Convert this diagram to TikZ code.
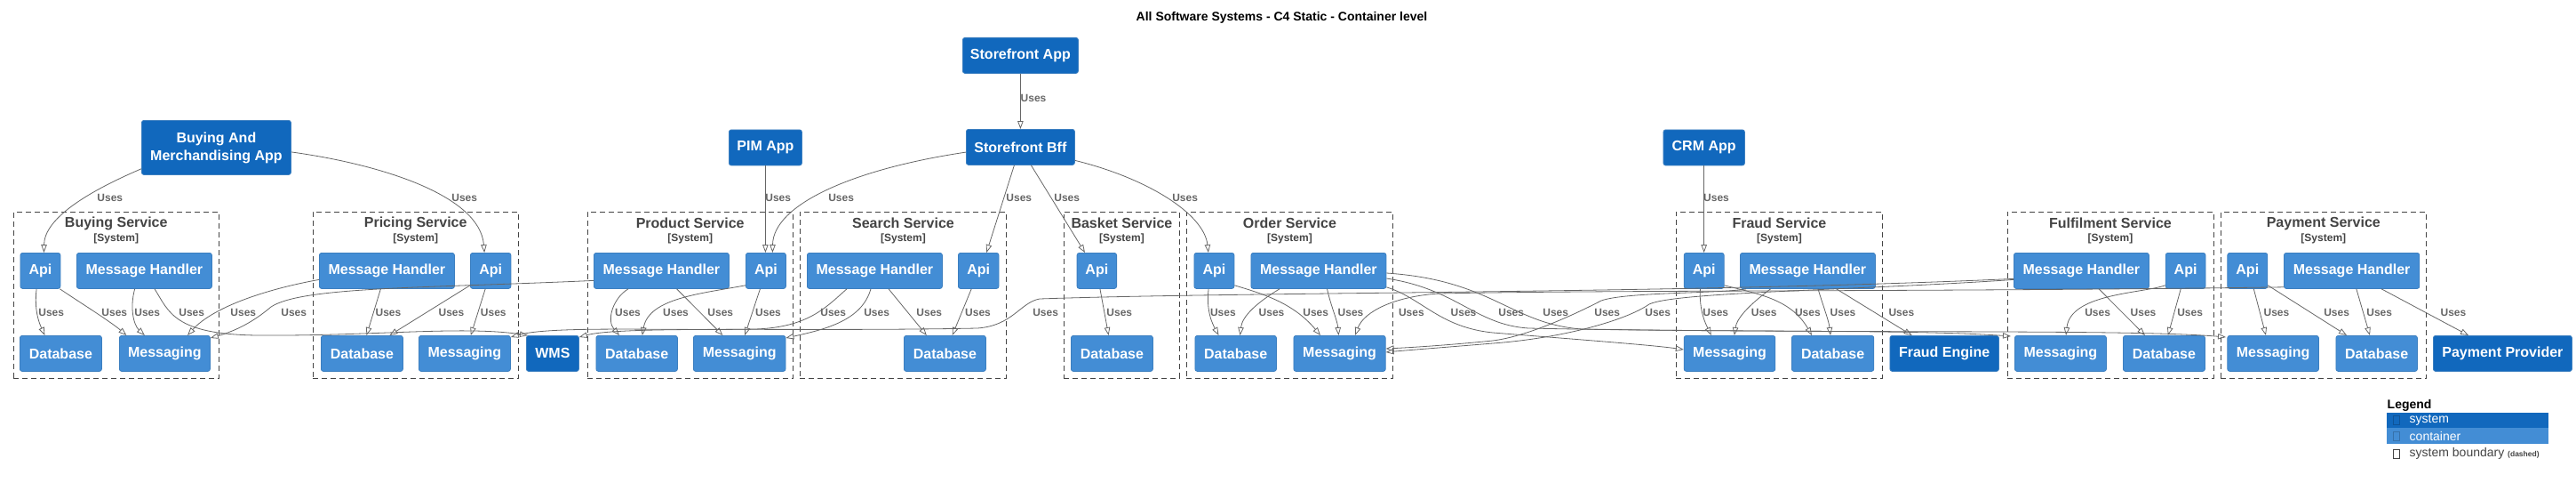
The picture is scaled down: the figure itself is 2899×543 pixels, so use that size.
\documentclass[tikz,border=0pt]{standalone}
\usepackage{fontspec}
\setmainfont{Liberation Sans}
\usetikzlibrary{arrows.meta}
\definecolor{sysblue}{HTML}{1168BD}
\definecolor{contblue}{HTML}{438DD5}
\definecolor{boxedge}{HTML}{3C7FC0}
\definecolor{relgray}{HTML}{666666}
\definecolor{bndgray}{HTML}{444444}
\tikzset{
  base/.style={rounded corners=2.5pt, draw=boxedge, line width=0.8pt, text=white,
    font=\fontsize{16}{20}\selectfont\bfseries, inner sep=0pt, minimum height=40pt,
    anchor=north west, align=center},
  sysbox/.style={base, fill=sysblue},
  contbox/.style={base, fill=contblue},
  bnd/.style={draw=bndgray, dash pattern=on 6pt off 4pt, line width=0.9pt,
    minimum height=187pt, inner sep=0pt, anchor=north west},
  btitle/.style={text=bndgray, font=\fontsize{16}{19}\selectfont\bfseries, inner sep=0pt},
  bsub/.style={text=bndgray, font=\fontsize{12}{14}\selectfont\bfseries, inner sep=0pt},
  rel/.style={draw=relgray, line width=0.8pt, -{Triangle[open, length=9pt, width=6.5pt]}},
  lbl/.style={text=relgray, font=\fontsize{12}{14}\selectfont\bfseries, inner sep=0pt},
  lgtext/.style={anchor=west, inner sep=0pt, font=\fontsize{14}{16}\selectfont},
  lgicon/.style={minimum width=7.5pt, minimum height=10pt, inner sep=0pt, line width=0.6pt},
}
\newcommand\mkcont[5]{\node[contbox, minimum width=#4pt] (#1) at (#2,#3) {#5};}
\newcommand\mksys[5]{\node[sysbox, minimum width=#4pt] (#1) at (#2,#3) {#5};}
\newcommand\mkbnd[4]{\node[bnd, minimum width=#3pt] (#1) at (#2,238) {};
  \node[btitle] (#1t) at ([yshift=-13pt]#1.north) {#4};
  \node[bsub] (#1s) at ([yshift=-30pt]#1.north) {[System]};}
\newcommand\mkuses[3]{\node[lbl] (#1) at (#2,#3) {Uses};}
\begin{document}
\begin{tikzpicture}[x=1pt,y=-1pt]
\useasboundingbox (0,0) rectangle (2899,543);
\node[font=\fontsize{14}{16}\selectfont\bfseries, inner sep=0pt] (title) at (1442.5,20) {All Software Systems - C4 Static - Container level};

% boundaries
\mkbnd{bbuy}{14.6}{231.4}{Buying Service}
\mkbnd{bpri}{351.5}{231.5}{Pricing Service}
\mkbnd{bpro}{660.5}{231.5}{Product Service}
\mkbnd{bsea}{900}{232}{Search Service}
\mkbnd{bbas}{1197}{130}{Basket Service}
\mkbnd{bord}{1335}{232}{Order Service}
\mkbnd{bfra}{1886}{232}{Fraud Service}
\mkbnd{bful}{2258.5}{232}{Fulfilment Service}
\mkbnd{bpay}{2498.7}{231.3}{Payment Service}

% systems
\mksys{sfa}{1083}{42}{130}{Storefront App}
\mksys{bff}{1087}{145}{122}{Storefront Bff}
\node[sysbox, minimum width=168pt, minimum height=61pt] (bam) at (159,135) {Buying And\\Merchandising App};
\mksys{pim}{820}{145.5}{82}{PIM App}
\mksys{crm}{1871.5}{145.5}{91.5}{CRM App}
\mksys{wms}{592}{377}{59}{WMS}
\mksys{fe}{2126.5}{377}{122.5}{Fraud Engine}
\mksys{pp}{2738}{377}{156}{Payment Provider}

% containers
\mkcont{bapi}{22.5}{284}{45}{Api}
\mkcont{bmh}{86}{284}{152}{Message Handler}
\mkcont{bdb}{22}{377}{92}{Database}
\mkcont{bmsg}{134}{377}{102}{Messaging}
\mkcont{pmh}{359}{284}{152}{Message Handler}
\mkcont{papi}{529}{284}{45.5}{Api}
\mkcont{pdb}{361}{377}{92}{Database}
\mkcont{pmsg}{471}{377}{103}{Messaging}
\mkcont{prmh}{668}{284}{152}{Message Handler}
\mkcont{prapi}{839}{284}{45}{Api}
\mkcont{prdb}{670.5}{377}{91.5}{Database}
\mkcont{prmsg}{780}{377}{103.6}{Messaging}
\mkcont{smh}{908}{284}{152}{Message Handler}
\mkcont{sapi}{1078}{284}{45.6}{Api}
\mkcont{sdb}{1017}{377}{92}{Database}
\mkcont{baapi}{1211.7}{284}{44.5}{Api}
\mkcont{badb}{1205}{377}{92}{Database}
\mkcont{oapi}{1343.5}{284}{45}{Api}
\mkcont{omh}{1407.5}{284}{152}{Message Handler}
\mkcont{odb}{1344.5}{377}{91.5}{Database}
\mkcont{omsg}{1455.5}{377}{103.3}{Messaging}
\mkcont{fapi}{1894.8}{284}{45}{Api}
\mkcont{fmh}{1958}{284}{152}{Message Handler}
\mkcont{fmsg}{1894.8}{377}{102.6}{Messaging}
\mkcont{fdb}{2016}{377}{92.4}{Database}
\mkcont{fumh}{2266}{284}{152}{Message Handler}
\mkcont{fuapi}{2436.8}{284}{44.8}{Api}
\mkcont{fumsg}{2267}{377}{103}{Messaging}
\mkcont{fudb}{2389}{377}{92}{Database}
\mkcont{paapi}{2506.4}{284}{45}{Api}
\mkcont{pamh}{2570}{284}{152.4}{Message Handler}
\mkcont{pamsg}{2506.4}{377}{102.6}{Messaging}
\mkcont{padb}{2628.5}{377}{91.5}{Database}

% top relations
\draw[rel] (sfa.south) -- (bff.north);
\draw[rel] ([yshift=7pt]bam.south west) .. controls (100,215) and (50,245) .. ([xshift=4pt]bapi.north);
\draw[rel] ([yshift=-5pt]bam.east) .. controls (430,185) and (540,220) .. ([xshift=-7pt]papi.north);
\draw[rel] (pim.south) -- (pim.south |- prapi.north);
\draw[rel] ([yshift=-5.7pt]bff.west) .. controls (960,190) and (870,230) .. ([xshift=7.5pt]prapi.north);
\draw[rel] ([xshift=-7pt]bff.south) -- ([xshift=9pt]sapi.north);
\draw[rel] ([xshift=12pt]bff.south) -- ([xshift=-13.4pt]baapi.north);
\draw[rel] ([yshift=-15pt]bff.east) .. controls (1290,200) and (1355,240) .. ([xshift=-6.5pt]oapi.north);
\draw[rel] (crm.south) -- (crm.south |- fapi.north);

% buying
\draw[rel] ([xshift=-4.3pt]bapi.south) .. controls (38,350) and (45,365) .. ([xshift=-18pt]bdb.north);
\draw[rel] ([xshift=-1pt]bapi.south east) .. controls (90,340) and (125,362) .. ([xshift=8.4pt]bmsg.north west);
\draw[rel] ([xshift=65.7pt]bmh.south west) .. controls (146,345) and (150,365) .. ([xshift=28.8pt]bmsg.north west);
\draw[rel] ([xshift=88pt]bmh.south west) .. controls (190,350) and (195,376) .. (290,377) .. controls (420,378) and (520,366) .. ([xshift=2pt]wms.north west);

% pricing
\draw[rel] ([yshift=-10pt]pmh.west) .. controls (300,325) and (240,345) .. ([xshift=77pt]bmsg.north west);
\draw[rel] ([xshift=69.4pt]pmh.south west) -- ([xshift=51.5pt]pdb.north west);
\draw[rel] ([yshift=4pt]papi.south west) -- ([xshift=77.4pt]pdb.north west);
\draw[rel] ([xshift=-6pt]papi.south) -- ([xshift=58.8pt]pmsg.north west);

% product
\draw[rel] ([yshift=-11pt]prmh.west) .. controls (480,324) and (340,322) .. (305,345) .. controls (285,362) and (265,372) .. ([yshift=-3pt]bmsg.north east);
\draw[rel] ([xshift=39pt]prmh.south west) .. controls (690,335) and (682,360) .. ([xshift=26.5pt]prdb.north west);
\draw[rel] ([yshift=4pt]prapi.south west) .. controls (790,330) and (730,335) .. ([xshift=52.3pt]prdb.north west);
\draw[rel] ([xshift=93.6pt]prmh.south west) -- ([xshift=33.4pt]prmsg.north west);
\draw[rel] ([xshift=-6.5pt]prapi.south) -- ([xshift=58.2pt]prmsg.north west);

% search
\draw[rel] ([xshift=45pt]smh.south west) .. controls (930,345) and (910,368) .. (850,370) .. controls (750,372) and (620,366) .. ([yshift=-2pt]pmsg.north east);
\draw[rel] ([xshift=72pt]smh.south west) .. controls (970,360) and (930,370) .. ([yshift=-3pt]prmsg.north east);
\draw[rel] ([xshift=92pt]smh.south west) -- ([xshift=25.8pt]sdb.north west);
\draw[rel] ([xshift=-8pt]sapi.south) -- ([xshift=54.7pt]sdb.north west);

% basket
\draw[rel] ([xshift=3.6pt]baapi.south) -- ([xshift=42.6pt]badb.north west);

% order
\draw[rel] ([xshift=-6.3pt]oapi.south) .. controls (1357,350) and (1365,365) .. ([xshift=27pt]odb.north west);
\draw[rel] ([xshift=32.5pt]omh.south west) .. controls (1415,340) and (1398,355) .. ([xshift=51pt]odb.north west);
\draw[rel] ([yshift=4pt]oapi.south east) .. controls (1420,330) and (1455,340) .. ([xshift=30.5pt]omsg.north west);
\draw[rel] ([xshift=86pt]omh.south west) .. controls (1498,345) and (1505,360) .. ([xshift=51pt]omsg.north west);
\draw[rel] ([yshift=2pt]omh.south east) .. controls (1600,335) and (1620,368) .. (1680,374) .. controls (1780,382) and (1860,388) .. ([yshift=-16pt]fmsg.north west);
\draw[rel] ([yshift=-29pt]omh.north east) .. controls (1640,325) and (1660,365) .. (1720,369) .. controls (1950,374) and (2150,370) .. ([xshift=-4pt,yshift=-1pt]fumsg.north west);
\draw[rel] ([yshift=-23pt]omh.north east) .. controls (1680,315) and (1700,364) .. (1780,370) .. controls (2100,375) and (2400,370) .. ([xshift=-1.4pt,yshift=-2pt]pamsg.north west);

% fraud
\draw[rel] ([xshift=-4.3pt]fapi.south) .. controls (1912,350) and (1920,365) .. ([xshift=31pt]fmsg.north west);
\draw[rel] ([xshift=34.6pt]fmh.south west) .. controls (1975,338) and (1955,355) .. ([xshift=57pt]fmsg.north west);
\draw[rel] ([yshift=4pt]fapi.south east) .. controls (1975,330) and (2015,335) .. ([xshift=23pt]fdb.north west);
\draw[rel] ([xshift=88pt]fmh.south west) .. controls (2052,345) and (2058,360) .. ([xshift=44pt]fdb.north west);
\draw[rel] ([xshift=108.6pt]fmh.south west) -- ([xshift=25.2pt]fe.north west);
\draw[rel] ([xshift=7pt]fmh.south west) .. controls (1940,330) and (1830,328) .. (1802,338) .. controls (1775,352) and (1720,378) .. (1680,383) .. controls (1620,389) and (1580,391) .. ([yshift=-15pt]omsg.north east);

% fulfilment
\draw[rel] ([yshift=-9pt]fumh.west) .. controls (1900,330) and (1400,328) .. (1170,336) .. controls (1148,340) and (1140,366) .. (1100,369) .. controls (900,373) and (700,366) .. ([yshift=-2pt]wms.north east);
\draw[rel] ([yshift=-10pt]fumh.west) .. controls (2100,326) and (1885,328) .. (1856,342) .. controls (1830,360) and (1760,380) .. (1680,386) .. controls (1620,391) and (1580,394) .. ([yshift=-19pt]omsg.north east);
\draw[rel] ([yshift=4pt]fuapi.south west) .. controls (2410,330) and (2330,330) .. ([xshift=58pt]fumsg.north west);
\draw[rel] ([xshift=96pt]fumh.south west) -- ([xshift=25pt]fudb.north west);
\draw[rel] ([xshift=-5.4pt]fuapi.south) -- ([xshift=50.8pt]fudb.north west);

% payment
\draw[rel] ([xshift=7pt]paapi.south) -- ([xshift=43.6pt]pamsg.north west);
\draw[rel] ([yshift=4pt]paapi.south east) -- ([xshift=12.5pt]padb.north west);
\draw[rel] ([xshift=81.8pt]pamh.south west) -- ([xshift=38.5pt]padb.north west);
\draw[rel] ([xshift=110pt]pamh.south west) -- ([xshift=40pt]pp.north west);
\draw[rel] ([yshift=2pt]pamh.south west) .. controls (2200,328) and (1800,326) .. (1620,330) .. controls (1570,333) and (1535,350) .. ([xshift=69.5pt]omsg.north west);

% labels
\mkuses{u1}{1163}{110}
\mkuses{u2}{123.8}{222}
\mkuses{u3}{522.7}{222}
\mkuses{u4}{875.7}{222}
\mkuses{u5}{946.6}{222}
\mkuses{u6}{1146.8}{222}
\mkuses{u7}{1200.7}{222}
\mkuses{u8}{1333.6}{222}
\mkuses{u9}{1931.5}{222}
\mkuses{m1}{57.7}{351.7}
\mkuses{m2}{128.8}{351.7}
\mkuses{m3}{165.7}{351.7}
\mkuses{m4}{215.7}{351.7}
\mkuses{m5}{273.8}{351.7}
\mkuses{m6}{330.7}{351.7}
\mkuses{m7}{437}{351.7}
\mkuses{m8}{508}{351.7}
\mkuses{m9}{555.3}{351.7}
\mkuses{m10}{706.5}{351.7}
\mkuses{m11}{760.5}{351.7}
\mkuses{m12}{810.8}{351.7}
\mkuses{m13}{864.5}{351.7}
\mkuses{m14}{937.7}{351.7}
\mkuses{m15}{986.6}{351.7}
\mkuses{m16}{1045.8}{351.7}
\mkuses{m17}{1100.5}{351.7}
\mkuses{m18}{1176.6}{351.7}
\mkuses{m19}{1259.8}{351.7}
\mkuses{m20}{1376.4}{351.7}
\mkuses{m21}{1431}{351.7}
\mkuses{m22}{1480.7}{351.7}
\mkuses{m23}{1520}{351.7}
\mkuses{m24}{1588.4}{351.7}
\mkuses{m25}{1647}{351.7}
\mkuses{m26}{1700.7}{351.7}
\mkuses{m27}{1750.7}{351.7}
\mkuses{m28}{1808.7}{351.7}
\mkuses{m29}{1865.7}{351.7}
\mkuses{m30}{1930.8}{351.7}
\mkuses{m31}{1985.2}{351.7}
\mkuses{m32}{2034.4}{351.7}
\mkuses{m33}{2074}{351.7}
\mkuses{m34}{2139.9}{351.7}
\mkuses{m35}{2360.6}{351.7}
\mkuses{m36}{2412}{351.7}
\mkuses{m37}{2464.6}{351.7}
\mkuses{m38}{2561.9}{351.7}
\mkuses{m39}{2629.6}{351.7}
\mkuses{m40}{2677.7}{351.7}
\mkuses{m41}{2760.9}{351.7}

% legend
\node[anchor=west, inner sep=0pt, font=\fontsize{14}{16}\selectfont\bfseries] (lgt) at (2686.5,455.5) {Legend};
\node[fill=sysblue, anchor=north west, minimum width=182pt, minimum height=17pt, inner sep=0pt] (lgsys) at (2686,464) {};
\node[fill=contblue, anchor=north west, minimum width=182pt, minimum height=18pt, inner sep=0pt] (lgcont) at (2686,481) {};
\node[lgicon, draw=sysblue!80!black] (lgi1) at (2697,472.5) {};
\node[lgicon, draw=contblue!80!black] (lgi2) at (2697,490) {};
\node[lgicon, draw=bndgray] (lgi3) at (2697,510) {};
\node[lgtext, text=white] (lgs) at (2711.5,472.5) {system};
\node[lgtext, text=white] (lgc) at (2711.5,490) {container};
\node[lgtext, text=bndgray] (lgb) at (2711.5,510) {system boundary {\fontsize{8.5}{10}\selectfont\bfseries (dashed)}};
\end{tikzpicture}
\end{document}
